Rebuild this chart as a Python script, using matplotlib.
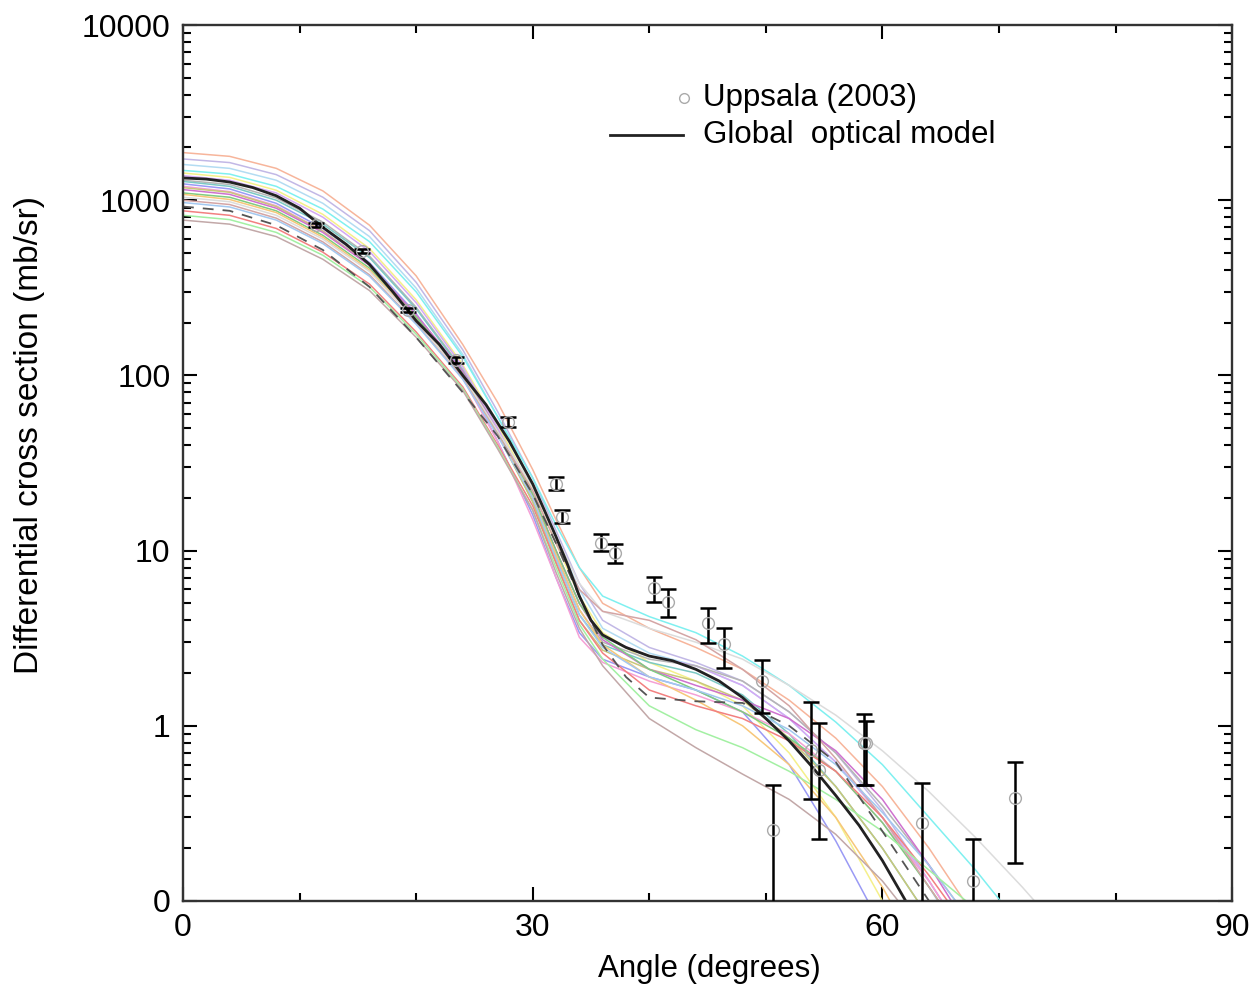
import numpy as np
import matplotlib.pyplot as plt
from matplotlib.lines import Line2D

plt.rcParams['font.family'] = ['Liberation Sans', 'DejaVu Sans']

# measured data (Uppsala 2003)
ang_data = [11.4, 15.35, 19.3, 23.4, 27.9, 32.0, 32.5, 35.9, 37.1, 40.4, 41.6,
            45.0, 46.4, 49.7, 50.6, 53.9, 54.6, 58.4, 58.6, 63.4, 67.8, 71.4]
xs_data = [721, 513, 236, 122, 54, 24, 15.6, 11.0, 9.7, 6.1, 5.1,
           3.86, 2.93, 1.80, 0.254, 0.73, 0.56, 0.80, 0.80, 0.28, 0.13, 0.387]
xs_lo = [705, 500, 230, 117, 50.5, 22.2, 14.4, 9.96, 8.5, 5.09, 4.18,
         2.97, 2.14, 1.18, 0.05, 0.38, 0.226, 0.46, 0.46, 0.05, 0.05, 0.165]
xs_hi = [737, 526, 242, 128, 58, 26.3, 17.1, 12.4, 10.9, 7.07, 6.04,
         4.70, 3.61, 2.38, 0.46, 1.37, 1.04, 1.17, 1.06, 0.47, 0.226, 0.62]

# global optical model
ang_gom = [0, 2, 4, 6, 8, 10, 12, 14, 16, 18, 20, 22, 24, 26, 28, 30, 31, 32, 33,
           34, 35, 36, 38, 40, 42, 44, 46, 48, 50, 52, 54, 56, 58, 60, 62, 63]
xs_gom = [1340, 1320, 1270, 1180, 1060, 900, 700, 560, 430, 300, 205, 150, 100,
          68, 42, 24, 17, 12, 8.3, 5.5, 4.0, 3.3, 2.8, 2.5, 2.35, 2.1, 1.8, 1.45,
          1.1, 0.82, 0.58, 0.40, 0.27, 0.17, 0.10, 0.075]

# dashed reference curve
ang_dash = [0, 4, 8, 12, 16, 20, 24, 27, 30, 32, 34, 36, 38, 40, 44, 48, 52,
            56, 60, 64, 68]
xs_dash = [920, 870, 720, 520, 320, 165, 80, 45, 21, 11, 5.5, 2.9, 1.9, 1.45,
           1.38, 1.35, 1.0, 0.62, 0.25, 0.1, 0.04]

# family of individual potentials
ang_grid = [0, 4, 8, 12, 16, 20, 24, 27, 30, 32, 34, 36, 40, 44, 48, 52, 56, 60,
            64, 68, 72, 76, 80]
salmon = [1870, 1780, 1520, 1130, 720, 370, 150, 70, 29, 15, 8, 5, 3.6, 2.8, 2.1, 1.4, 0.85, 0.45, 0.2, 0.08, 0.03]
lavender = [1720, 1640, 1400, 1040, 670, 340, 140, 62, 26, 13, 6.5, 4, 2.8, 2.3, 1.8, 1.2, 0.7, 0.33, 0.13, 0.05]
lightblue = [1600, 1520, 1300, 960, 620, 315, 132, 58, 24, 12, 6, 3.6, 2.6, 2.2, 1.7, 1.1, 0.62, 0.3, 0.12, 0.045]
cyan = [1480, 1410, 1200, 890, 580, 300, 128, 58, 26, 14, 8, 5.5, 4.2, 3.4, 2.5, 1.7, 1.05, 0.6, 0.3, 0.15, 0.07, 0.03]
yellow = [1430, 1350, 1140, 830, 530, 270, 115, 52, 22, 11, 5.5, 3.4, 2.3, 1.8, 1.3, 0.7, 0.3, 0.1, 0.03]
violet = [1380, 1300, 1100, 800, 510, 260, 112, 50, 21, 10, 5, 3.2, 2.5, 2.2, 1.7, 1.1, 0.62, 0.3, 0.13, 0.05]
grey = [1300, 1230, 1030, 750, 480, 245, 108, 48, 20, 9.5, 4.6, 3.0, 2.4, 2.2, 1.8, 1.2, 0.7, 0.35, 0.16, 0.07]
teal = [1280, 1200, 1000, 730, 470, 240, 106, 47, 19, 9, 4.3, 2.9, 2.3, 2.0, 1.5, 0.9, 0.45, 0.2, 0.08, 0.03]
blue = [1240, 1160, 960, 690, 440, 225, 100, 42, 16, 7, 3.4, 2.4, 1.9, 1.6, 1.2, 0.6, 0.22, 0.07, 0.02]
pink = [1200, 1120, 930, 670, 425, 215, 97, 42, 15, 7, 3.2, 2.3, 1.8, 1.5, 1.2, 0.9, 0.55, 0.28, 0.13, 0.05]
olive = [1180, 1110, 920, 665, 428, 220, 102, 46, 19, 8.5, 4.0, 2.7, 2.1, 1.8, 1.4, 0.85, 0.45, 0.2, 0.08, 0.03]
magenta = [1150, 1080, 900, 655, 425, 222, 105, 48, 21, 10, 5, 3.1, 2.1, 1.7, 1.4, 1.1, 0.72, 0.38, 0.16, 0.06]
green = [1100, 1040, 870, 630, 410, 215, 102, 47, 21, 10, 5, 3.2, 2.1, 1.6, 1.2, 0.85, 0.55, 0.28, 0.12, 0.05]
orange = [1080, 1010, 850, 615, 400, 208, 99, 46, 20, 9.5, 4.6, 2.9, 1.9, 1.4, 1.0, 0.6, 0.3, 0.12, 0.04]
lightgrey = [1040, 980, 820, 600, 392, 205, 100, 48, 23, 12, 6.5, 4.5, 3.6, 3.0, 2.4, 1.7, 1.15, 0.72, 0.42, 0.23, 0.12, 0.06, 0.03]
rosy = [1000, 945, 790, 578, 375, 198, 96, 46, 22, 11, 6, 4.5, 4.0, 3.1, 2.1, 1.3, 0.65, 0.3, 0.12, 0.05]
skyblue = [970, 915, 770, 565, 368, 196, 95, 45, 20, 9, 4.3, 2.8, 1.9, 1.6, 1.3, 0.95, 0.6, 0.32, 0.16, 0.07, 0.03]
red = [870, 820, 690, 505, 332, 177, 86, 40, 18, 8.5, 4.0, 2.6, 1.6, 1.3, 1.1, 0.82, 0.55, 0.3, 0.14, 0.06]
lightgreen = [820, 775, 655, 485, 320, 172, 84, 39, 17, 8, 3.8, 2.4, 1.3, 0.95, 0.75, 0.55, 0.38, 0.25, 0.15, 0.09, 0.05]
brown = [770, 730, 620, 460, 305, 165, 82, 38, 17, 7.5, 3.6, 2.2, 1.1, 0.75, 0.53, 0.38, 0.24, 0.13, 0.06]

family = [(salmon, '#f7b59b'), (lavender, '#c2b8e6'), (lightblue, '#b3dcf2'),
          (cyan, '#7ff0f0'), (yellow, '#f5f08a'), (violet, '#d4a8f5'),
          (grey, '#b5b5b5'), (teal, '#7cc9c4'), (blue, '#9a9af5'),
          (pink, '#f5a0d5'), (olive, '#c9c77a'), (magenta, '#cf72cf'),
          (green, '#80cc80'), (orange, '#f7c77a'), (lightgrey, '#dcdcdc'),
          (rosy, '#d4a5a5'), (skyblue, '#a3c8f0'), (red, '#f28080'),
          (lightgreen, '#a3f0a3'), (brown, '#c2a8a8')]

fig = plt.figure(figsize=(12.56, 9.89), dpi=100)
ax = fig.add_axes([0.1457, 0.089, 0.8353, 0.8857])

for vals, col in family:
    ax.plot(ang_grid[:len(vals)], vals, color=col, lw=1.1)

ax.plot(ang_dash, xs_dash, color='#555555', lw=1.3, ls=(0, (6, 5)))
ax.plot(ang_gom, xs_gom, color='#222222', lw=2.0)

yerr = [np.array(xs_data) - np.array(xs_lo), np.array(xs_hi) - np.array(xs_data)]
ax.errorbar(ang_data, xs_data, yerr=yerr, fmt='none', ecolor='black',
            elinewidth=1.8, capsize=5.5, capthick=1.8, zorder=5)
ax.plot(ang_data, xs_data, 'o', mfc='none', mec='#aaaaaa', ms=8.5, mew=1.0, zorder=6)

ax.set_yscale('log')
ax.set_xlim(0, 90)
ax.set_ylim(0.1, 10000)
ax.set_xticks([0, 30, 60, 90])
ax.set_xticks([10, 20, 40, 50, 70, 80], minor=True)
ax.set_yticks([0.1, 1, 10, 100, 1000, 10000])
ax.set_yticklabels(['0', '1', '10', '100', '1000', '10000'])
ax.tick_params(which='major', direction='in', length=10, width=1.5,
               top=True, right=True, labelsize=23, pad=9)
ax.tick_params(which='minor', direction='in', length=6, width=1.5,
               top=True, right=True)
for s in ax.spines.values():
    s.set_linewidth(1.7)
    s.set_color('#333333')

ax.set_xlabel('Angle (degrees)', fontsize=22.5)
ax.xaxis.set_label_coords(0.502, -0.060)
ax.set_ylabel('Differential cross section (mb/sr)', fontsize=24)
ax.yaxis.set_label_coords(-0.132, 0.532)

# key
ax.plot([0.4776], [0.9167], 'o', mfc='none', mec='#aaaaaa', ms=7, mew=1.0,
        transform=ax.transAxes)
ax.add_line(Line2D([0.407, 0.4766], [0.8744, 0.8744], color='#222222', lw=2.0,
                   transform=ax.transAxes))
ax.text(0.4957, 0.9167, 'Uppsala (2003)', transform=ax.transAxes, fontsize=22.5,
        va='center', ha='left')
ax.text(0.4957, 0.8744, 'Global  optical model', transform=ax.transAxes,
        fontsize=22.5, va='center', ha='left')

fig.savefig('out.png', dpi=100)
